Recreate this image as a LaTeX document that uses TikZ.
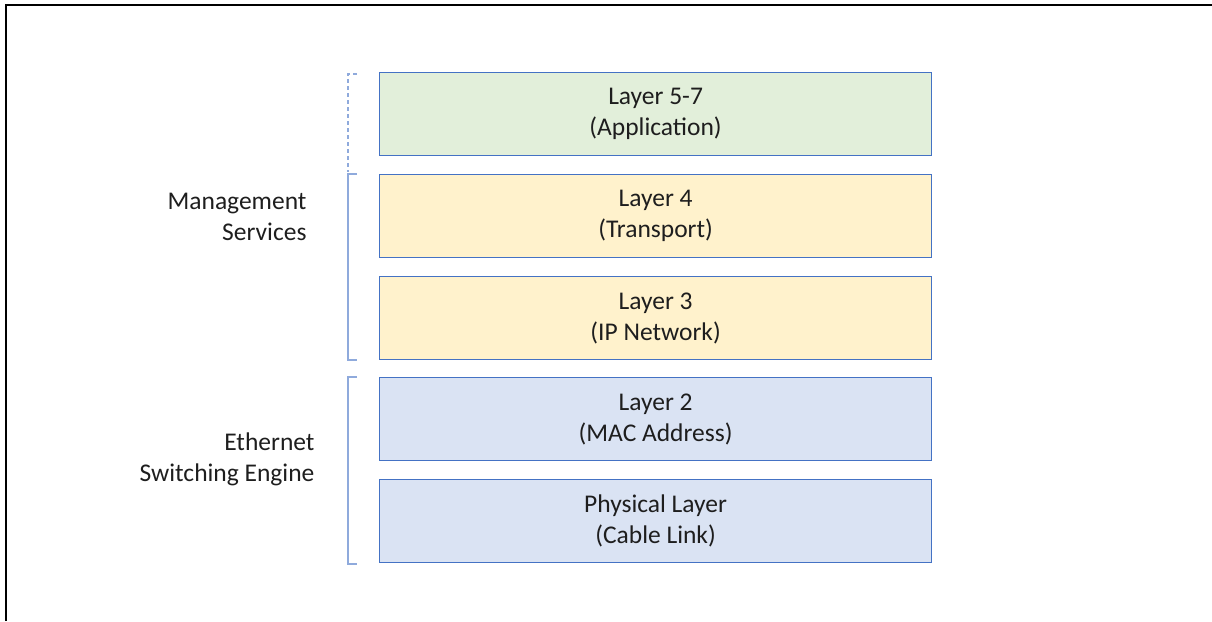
\documentclass[tikz,border=0pt]{standalone}
\usepackage{fontspec}
\setmainfont{Carlito}
\usetikzlibrary{calc}
\definecolor{edgeblue}{HTML}{4472C4}
\definecolor{brace}{HTML}{8FAADC}
\definecolor{appfill}{HTML}{E2EFDA}
\definecolor{netfill}{HTML}{FFF2CC}
\definecolor{linkfill}{HTML}{DAE3F3}
\definecolor{ink}{HTML}{1E1E1E}
\begin{document}
\begin{tikzpicture}[x=1pt,y=-1pt,
  layerbox/.style={draw=edgeblue, line width=1.2pt, minimum width=552pt, minimum height=83pt,
    anchor=north west, inner sep=0pt, align=center, text=ink,
    font=\fontsize{25.5}{31}\selectfont},
  grouplabel/.style={anchor=east, align=right, text=ink, font=\fontsize{25.5}{31}\selectfont},
  bracket/.style={draw=brace, line width=1.5pt}]
  \useasboundingbox (0,0) rectangle (1212,621);
  % frame edge
  \draw[line width=1.6pt] (6,621) -- (6,5) -- (1212,5);

  % stack of layers
  \node[layerbox, fill=appfill]  (l57)  at (379,72)  {Layer 5-7\\(Application)};
  \node[layerbox, fill=netfill]  (l4)   at (379,174) {Layer 4\\(Transport)};
  \node[layerbox, fill=netfill]  (l3)   at (379,276) {Layer 3\\(IP Network)};
  \node[layerbox, fill=linkfill] (l2)   at (379,377) {Layer 2\\(MAC Address)};
  \node[layerbox, fill=linkfill] (phy)  at (379,479) {Physical Layer\\(Cable Link)};

  % group brackets
  \draw[bracket, dashed, dash pattern=on 4pt off 3pt]
    ($(l57.north west)+(-22,2)$) -- ($(l57.north west)+(-31,2)$) -- ($(l4.north west)+(-31,-2)$);
  \draw[bracket]
    ($(l4.north west)+(-22,0)$) -- ($(l4.north west)+(-31,0)$) --
    ($(l3.south west)+(-31,0)$) -- ($(l3.south west)+(-22,0)$);
  \draw[bracket]
    ($(l2.north west)+(-22,0)$) -- ($(l2.north west)+(-31,0)$) --
    ($(phy.south west)+(-31,1)$) -- ($(phy.south west)+(-22,1)$);

  % group labels
  \node[grouplabel] (mgmt) at (310,217) {Management\\Services};
  \node[grouplabel] (eth)  at (318,459) {Ethernet\\Switching Engine};
\end{tikzpicture}
\end{document}
